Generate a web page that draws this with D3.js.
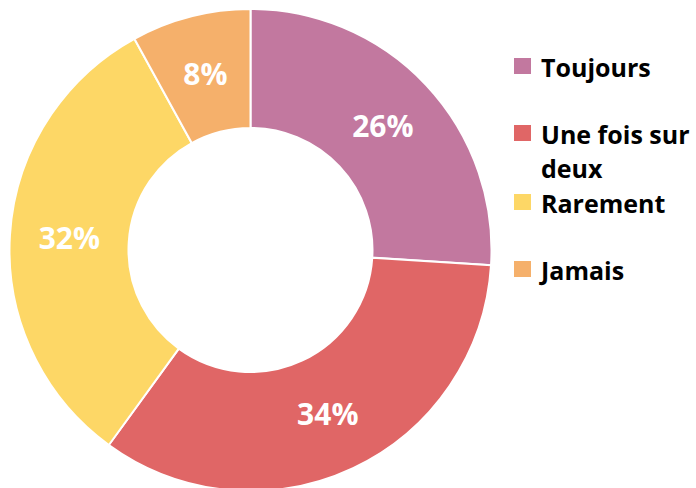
<!DOCTYPE html>
<html>
<head>
<meta charset="utf-8">
<script src="https://cdn.jsdelivr.net/npm/d3@7"></script>
<style>
	body { margin: 0; background: #fff; }
	text { font-family: "Open Sans", sans-serif; font-weight: bold; }
</style>
</head>
<body>
<svg id="plot" width="696" height="488"></svg>
<script>

const CATEGORIES = ['Toujours', 'Une fois sur deux', 'Rarement', 'Jamais'];
const VALUES = [26, 34, 32, 8];
const COLORS = ['#C2789F', '#E06666', '#FDD766', '#F5B06B'];

const data = CATEGORIES.map((c, i) => {
	return {'name': c, 'value': VALUES[i], 'color': COLORS[i]}
});

const svg = d3.select('#plot');

const cx = 250.5, cy = 250, outerR = 241, innerR = 122;

const pie = d3.pie()
	.value(d => d.value)
	.sort(null);

const arc = d3.arc()
	.innerRadius(innerR)
	.outerRadius(outerR);

const g = svg.append('g')
	.attr('transform', `translate(${cx},${cy})`);

const slices = pie(data);

g.selectAll('path')
	.data(slices)
	.enter().append('path')
	.attr('d', arc)
	.style('fill', d => d.data.color)
	.style('stroke', '#fff')
	.style('stroke-width', 2);

// percent labels at the arc centroid
g.selectAll('text')
	.data(slices)
	.enter().append('text')
	.attr('x', d => arc.centroid(d)[0])
	.attr('y', d => arc.centroid(d)[1])
	.attr('text-anchor', 'middle')
	.attr('dy', '0.36em')
	.style('fill', '#fff')
	.style('font-size', '30px')
	.text(d => d.data.value + '%');

// legend
const legX = 514, legTextX = 541, maxW = 158;
let baseline = 77;
const legend = svg.append('g');

data.forEach((d, i) => {
	legend.append('rect')
		.attr('x', legX)
		.attr('y', baseline - 19)
		.attr('width', 17)
		.attr('height', 16)
		.style('fill', d.color);

	const t = legend.append('text')
		.attr('x', legTextX)
		.attr('y', baseline)
		.style('font-size', '25px')
		.style('fill', '#000');

	// simple word wrap
	const words = d.name.split(' ');
	let line = [];
	let tspan = t.append('tspan').attr('x', legTextX).attr('y', baseline);
	let lines = 1;
	words.forEach(w => {
		line.push(w);
		tspan.text(line.join(' '));
		if (tspan.node().getComputedTextLength() > maxW && line.length > 1) {
			line.pop();
			tspan.text(line.join(' '));
			line = [w];
			lines++;
			tspan = t.append('tspan')
				.attr('x', legTextX)
				.attr('y', baseline + (lines - 1) * 34)
				.text(w);
		}
	});

	baseline += 67 + (lines - 1) * 2;
});

</script>
</body>
</html>
